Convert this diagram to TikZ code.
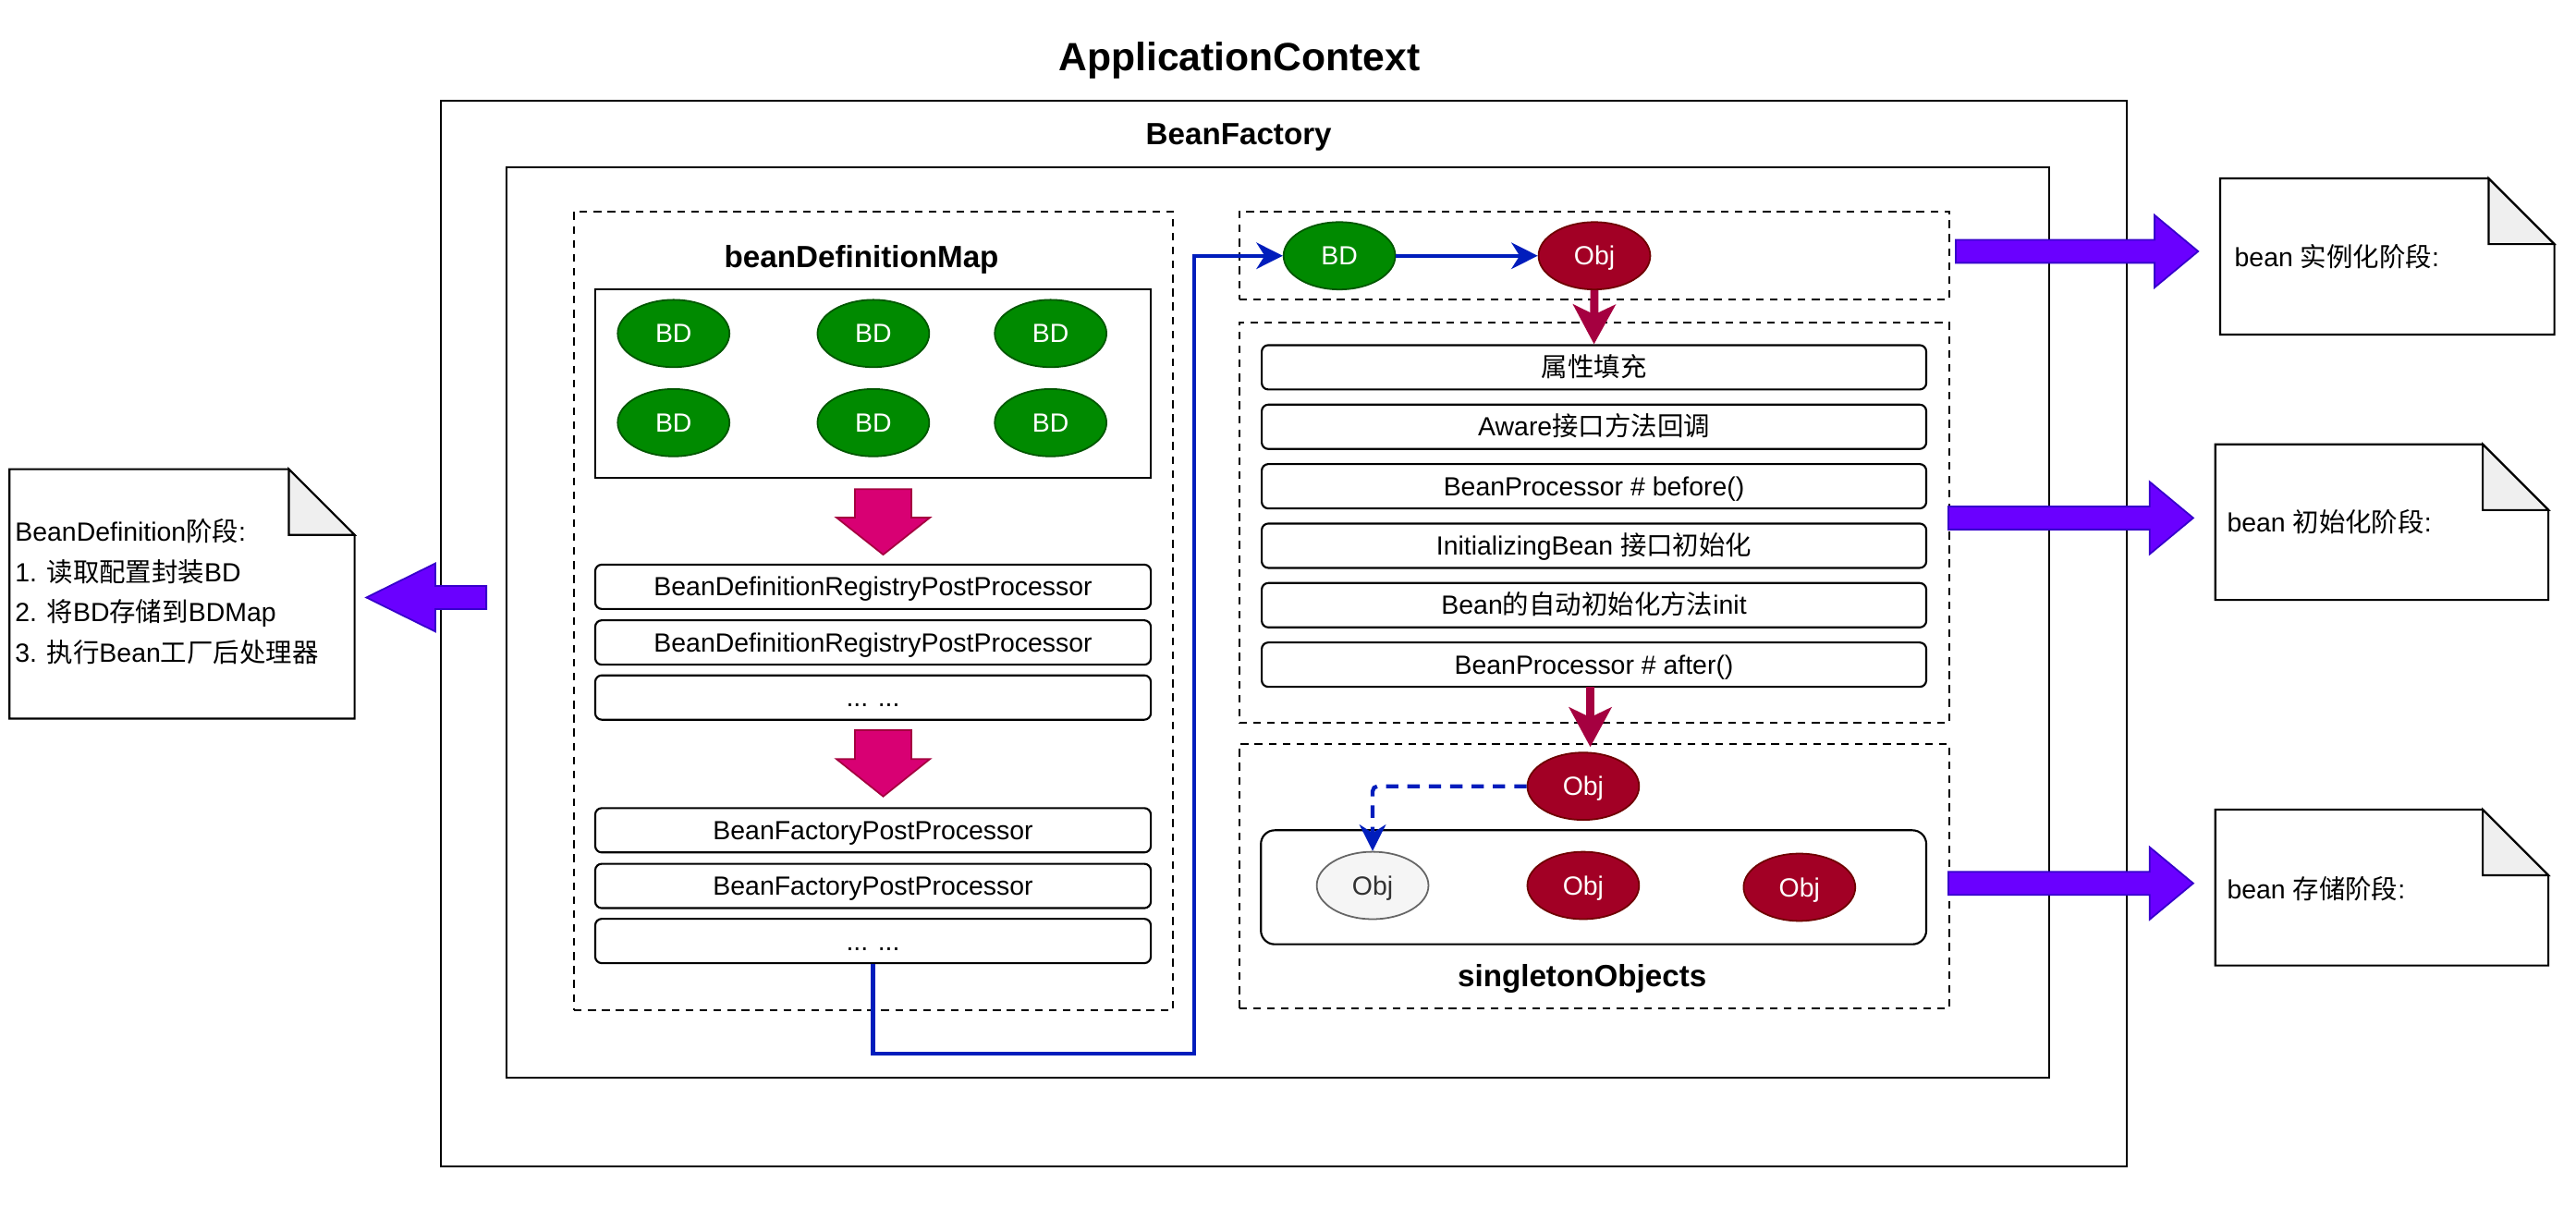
\documentclass[tikz,border=0pt]{standalone}
\usepackage{fontspec}
\setmainfont{Liberation Sans}
\newfontfamily\cjk{Noto Sans CJK SC}
\usetikzlibrary{shapes.geometric,arrows.meta,calc}
\definecolor{bdF}{HTML}{008A00}
\definecolor{bdS}{HTML}{005700}
\definecolor{obF}{HTML}{A20025}
\definecolor{obS}{HTML}{6F0000}
\definecolor{gyF}{HTML}{F5F5F5}
\definecolor{gyS}{HTML}{666666}
\definecolor{gyT}{HTML}{333333}
\definecolor{blueL}{HTML}{001DBC}
\definecolor{pkF}{HTML}{D80073}
\definecolor{pkS}{HTML}{A50040}
\definecolor{vlF}{HTML}{6A00FF}
\definecolor{vlS}{HTML}{3700CC}
\definecolor{foldc}{HTML}{EFEFEF}
\newcommand\fsz{\fontsize{16}{19.2}\selectfont}
\newcommand\fbd{\fontsize{18.67}{22}\selectfont\bfseries}
\newcommand\fttl{\fontsize{24}{29}\selectfont\bfseries}
% block arrow: #1 tail, #2 tip, #3 head length, #4 half shaft, #5 half head, #6 style
\newcommand\blockarr[6]{%
  \coordinate (#1-b) at ($(#2)!#3!(#1)$);
  \filldraw[#6] ($(#1)!#4!90:(#2)$) -- ($(#1-b)!#4!90:(#2)$) -- ($(#1-b)!#5!90:(#2)$)
    -- (#2) -- ($(#1-b)!#5!-90:(#2)$) -- ($(#1-b)!#4!-90:(#2)$) -- ($(#1)!#4!-90:(#2)$) -- cycle;}
\begin{document}
\begin{tikzpicture}[x=1pt,y=-1pt,
  frame/.style={draw, line width=1.2pt, inner sep=0pt},
  dbox/.style={draw, line width=1.2pt, dash pattern=on 4.7pt off 3.8pt, inner sep=0pt, minimum width=432.3pt},
  rbox/.style={draw, line width=1.2pt, rounded corners=4pt, inner sep=0pt, minimum height=27pt, text height=14.6pt, text depth=3.4pt, font=\fsz},
  lbox/.style={rbox, minimum width=338.2pt},
  mbox/.style={rbox, minimum width=404.5pt},
  lbl/.style={font=\fbd, inner sep=0pt, text height=17pt, text depth=3.6pt},
  ttl/.style={font=\fttl, inner sep=0pt, text height=20.6pt, text depth=3.4pt},
  txt/.style={font=\fsz, inner sep=0pt, anchor=west, text height=14.6pt, text depth=3.4pt},
  ell/.style={ellipse, line width=1pt, minimum width=68pt, minimum height=41pt, inner sep=0pt, font=\fsz, text height=14.8pt, text depth=3.4pt},
  bd/.style={ell, draw=bdS, fill=bdF, text=white},
  obj/.style={ell, draw=obS, fill=obF, text=white},
  objg/.style={ell, draw=gyS, fill=gyF, text=gyT},
  docline/.style={draw, line width=1.2pt, fill=white},
  pinkarr/.style={fill=pkF, draw=pkS, line width=1pt},
  violarr/.style={fill=vlF, draw=vlS, line width=1pt},
  bluearr/.style={draw=blueL, line width=2.4pt, -{Stealth[length=16pt,width=16pt,inset=5pt]}},
  crarr/.style={draw=pkS, line width=5pt, -{Stealth[length=24pt,width=25.6pt,inset=6pt]}}
]
\useasboundingbox (0,0) rectangle (1568,735);
\fill[white] (0,0) rectangle (1568,735);

% titles and frames
\node[ttl] (title) at (754.4,34.2) {ApplicationContext};
\node[frame, minimum width=1026.4pt, minimum height=648.5pt] (ac) at (781.4,385.75) {};
\node[lbl] (bflbl) at (754,81.1) {BeanFactory};
\node[frame, minimum width=938.7pt, minimum height=554.2pt] (bf) at (777.75,378.9) {};

% left column
\node[dbox, minimum width=364.4pt, minimum height=486.3pt] (left) at (531.6,371.85) {};
\node[lbl] (bdmlbl) at (524.4,156) {beanDefinitionMap};
\node[frame, minimum width=338.2pt, minimum height=115.2pt] (bdmap) at (531.4,233.5) {};
\node[bd] (bd1) at (410,203) {BD};
\node[bd] (bd2) at (531.6,203) {BD};
\node[bd] (bd3) at (639.5,203) {BD};
\node[bd] (bd4) at (410,257.3) {BD};
\node[bd] (bd5) at (531.6,257.3) {BD};
\node[bd] (bd6) at (639.5,257.3) {BD};

\coordinate (pk1t) at (537.6,297.8);
\coordinate (pk1h) at (537.6,337.6);
\blockarr{pk1t}{pk1h}{22.6pt}{17.15pt}{28.5pt}{pinkarr}

\node[lbox] (l1) at (531.4,357.2) {BeanDefinitionRegistryPostProcessor};
\node[lbox] (l2) at (531.4,391.1) {BeanDefinitionRegistryPostProcessor};
\node[lbox] (l3) at (531.4,424.6) {... ...};

\coordinate (pk2t) at (537.6,444.5);
\coordinate (pk2h) at (537.6,484.8);
\blockarr{pk2t}{pk2h}{22.8pt}{17.15pt}{28.5pt}{pinkarr}

\node[lbox] (l4) at (531.4,505.4) {BeanFactoryPostProcessor};
\node[lbox] (l5) at (531.4,539.3) {BeanFactoryPostProcessor};
\node[lbox] (l6) at (531.4,572.8) {... ...};

% right column: instantiation
\node[dbox, minimum height=53.8pt] (inst) at (970.45,155.6) {};
\node[bd] (bdr) at (815.3,155.7) {BD};
\node[obj] (objT) at (970.5,155.7) {Obj};

% initialisation
\node[dbox, minimum height=243.5pt] (init) at (970.45,318.25) {};
\node[mbox] (m1) at (970.25,223.6) {{\cjk 属性填充}};
\node[mbox] (m2) at (970.25,259.8) {Aware{\cjk 接口方法回调}};
\node[mbox] (m3) at (970.25,296) {BeanProcessor \# before()};
\node[mbox] (m4) at (970.25,332.2) {InitializingBean {\cjk 接口初始化}};
\node[mbox] (m5) at (970.25,368.4) {Bean{\cjk 的自动初始化方法}init};
\node[mbox] (m6) at (970.25,404.6) {BeanProcessor \# after()};

% storage
\node[dbox, minimum height=161pt] (store) at (970.45,533.5) {};
\node[obj] (objS) at (963.7,478.6) {Obj};
\node[draw, line width=1.2pt, rounded corners=8.4pt, minimum width=405pt, minimum height=69.4pt, inner sep=0pt] (single) at (970,540.1) {};
\node[objg] (objG) at (835.5,539) {Obj};
\node[obj] (obj2) at (963.7,539) {Obj};
\node[obj] (obj3) at (1095.3,540.1) {Obj};
\node[lbl] (sglbl) at (963,594) {singletonObjects};

% connectors
\coordinate (bend) at (727,641.4);
\draw[bluearr] (l6.south) |- (bend) |- (bdr.west);
\draw[bluearr] (bdr.east) -- (objT.west);
\draw[crarr] (objT.south) -- (m1.north);
\coordinate (c6) at (968,418.2);
\coordinate (c7) at (968,454.7);
\draw[crarr] (c6) -- (c7);
\draw[bluearr, dash pattern=on 7.5pt off 5.5pt, rounded corners=3pt] (objS.west) -| (objG.north);

% documents
\node[minimum width=209.6pt, minimum height=151.4pt, inner sep=0pt] (doc0) at (110.8,361.5) {};
\node[minimum width=203pt, minimum height=94.7pt, inner sep=0pt] (doc1) at (1453.1,156.15) {};
\node[minimum width=202.4pt, minimum height=94.3pt, inner sep=0pt] (doc2) at (1449.8,317.85) {};
\node[minimum width=202.4pt, minimum height=94.5pt, inner sep=0pt] (doc3) at (1449.8,540.25) {};
\foreach \d in {doc0,doc1,doc2,doc3}{
  \draw[docline] (\d.north west) -- ([xshift=-40pt]\d.north east) -- ([yshift=-40pt]\d.north east) -- (\d.south east) -- (\d.south west) -- cycle;
  \filldraw[docline, fill=foldc] ([xshift=-40pt]\d.north east) -- ([xshift=-40pt,yshift=-40pt]\d.north east) -- ([yshift=-40pt]\d.north east) -- cycle;
}
\node[txt] (d0a) at (9,324) {BeanDefinition{\cjk 阶段}:};
\node[txt] (d0b) at (9,348.5) {1. {\cjk 读取配置封装}BD};
\node[txt] (d0c) at (9,373) {2. {\cjk 将}BD{\cjk 存储到}BDMap};
\node[txt] (d0d) at (9,397.5) {3. {\cjk 执行}Bean{\cjk 工厂后处理器}};
\node[txt] (d1) at (1360,156.6) {bean {\cjk 实例化阶段}:};
\node[txt] (d2) at (1355.4,318) {bean {\cjk 初始化阶段}:};
\node[txt] (d3) at (1355.4,541.3) {bean {\cjk 存储阶段}:};

% phase arrows
\coordinate (va0t) at (296,363.7);
\coordinate (va0h) at (223,363.7);
\blockarr{va0t}{va0h}{42pt}{7pt}{20.75pt}{violarr}
\coordinate (va1t) at (1190.5,153);
\coordinate (va1h) at (1338,153);
\blockarr{va1t}{va1h}{26.5pt}{7pt}{22pt}{violarr}
\coordinate (va2t) at (1186,315.3);
\coordinate (va2h) at (1335,315.3);
\blockarr{va2t}{va2h}{26.5pt}{7pt}{22pt}{violarr}
\coordinate (va3t) at (1186,537.7);
\coordinate (va3h) at (1335,537.7);
\blockarr{va3t}{va3h}{26.5pt}{7pt}{22pt}{violarr}
\end{tikzpicture}
\end{document}
